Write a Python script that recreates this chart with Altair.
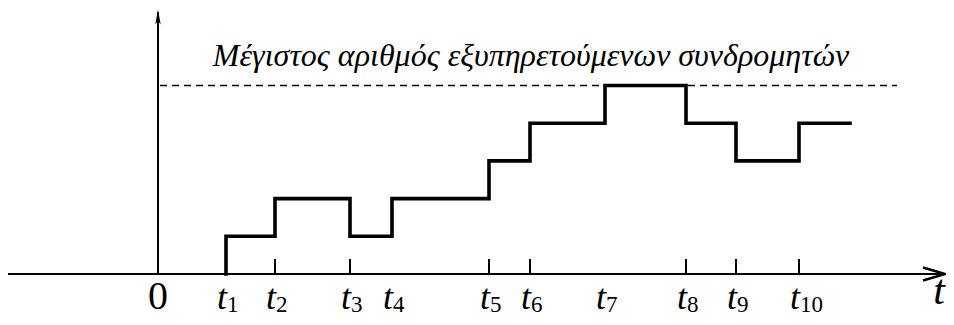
import altair as alt
import pandas as pd

# ---- data (time positions in arbitrary units, levels = number of subscribers) ----
t_names = ["1", "2", "3", "4", "5", "6", "7", "8", "9", "10"]
t_pos = [6.8, 11.7, 19.2, 23.4, 33.1, 37.2, 44.7, 52.8, 57.8, 64.1]
levels_after = [1, 2, 1, 2, 3, 4, 5, 4, 3, 4]
t_end = 69.2
end_level = 4
max_level = 5
ticked = ["2", "3", "5", "6", "8", "9", "10"]
title_text = "Μέγιστος αριθμός εξυπηρετούμενων συνδρομητών"

SERIF = "Liberation Serif, Times New Roman, DejaVu Serif, serif"
X_DOM = [-15.0, 78.8]
Y_DOM = [-1.141, 7.056]
W, H = 938, 309

xs = alt.Scale(domain=X_DOM, nice=False, zero=False)
ys = alt.Scale(domain=Y_DOM, nice=False, zero=False)

# step line
step_df = pd.DataFrame({
    "x": [t_pos[0]] + t_pos + [t_end],
    "y": [0] + levels_after + [end_level],
    "o": list(range(len(t_pos) + 2)),
})
step = alt.Chart(step_df).mark_line(
    interpolate="step-after", color="black", strokeWidth=3.6, strokeJoin="miter", strokeCap="square"
).encode(
    x=alt.X("x:Q", scale=xs, axis=None),
    y=alt.Y("y:Q", scale=ys, axis=None),
    order="o:Q",
)

# axes
axes_df = pd.DataFrame({
    "x": [-15.0, 0.0], "x2": [78.6, 0.0],
    "y": [0.0, 0.0], "y2": [0.0, 6.95],
})
axes = alt.Chart(axes_df).mark_rule(color="black", strokeWidth=2).encode(
    x=alt.X("x:Q", scale=xs, axis=None), x2="x2:Q",
    y=alt.Y("y:Q", scale=ys, axis=None), y2="y2:Q",
)

# arrowheads
up_df = pd.DataFrame({"x": [0.0], "y": [6.82]})
up_arrow = alt.Chart(up_df).mark_point(
    shape="M0,-1L0.36,1L0,0.55L-0.36,1Z", size=225, filled=True, color="black", opacity=1
).encode(x=alt.X("x:Q", scale=xs, axis=None), y=alt.Y("y:Q", scale=ys, axis=None))

right_df = pd.DataFrame({"x": [77.6], "y": [0.0]})
right_arrow = alt.Chart(right_df).mark_point(
    shape="M-1,-0.6L1,0L-1,0.6", size=484, filled=False, color="black",
    strokeWidth=2.6, opacity=1
).encode(x=alt.X("x:Q", scale=xs, axis=None), y=alt.Y("y:Q", scale=ys, axis=None))

# dashed max line
max_df = pd.DataFrame({"x": [0.2], "x2": [73.9], "y": [max_level]})
max_line = alt.Chart(max_df).mark_rule(
    color="black", strokeWidth=1.6, strokeDash=[7, 5]
).encode(
    x=alt.X("x:Q", scale=xs, axis=None), x2="x2:Q",
    y=alt.Y("y:Q", scale=ys, axis=None),
)

# ticks
tick_df = pd.DataFrame({
    "x": [p for n, p in zip(t_names, t_pos) if n in ticked],
})
tick_df["y"] = 0.0
tick_df["y2"] = 0.4
ticks = alt.Chart(tick_df).mark_rule(color="black", strokeWidth=2).encode(
    x=alt.X("x:Q", scale=xs, axis=None),
    y=alt.Y("y:Q", scale=ys, axis=None), y2="y2:Q",
)

# labels
lab_df = pd.DataFrame({"x": t_pos, "sub": t_names})
lab_df["y"] = -0.928
lab_df["ys"] = -1.008
lab_df["t"] = "t"
t_text = alt.Chart(lab_df).mark_text(
    font=SERIF, fontStyle="italic", fontSize=36, align="right",
    baseline="alphabetic", dx=1, color="black"
).encode(x=alt.X("x:Q", scale=xs, axis=None), y=alt.Y("y:Q", scale=ys, axis=None), text="t:N")
sub_text = alt.Chart(lab_df).mark_text(
    font=SERIF, fontSize=23, align="left", baseline="alphabetic", dx=1, color="black"
).encode(x=alt.X("x:Q", scale=xs, axis=None), y=alt.Y("ys:Q", scale=ys, axis=None), text="sub:N")

zero_df = pd.DataFrame({"x": [0.0], "y": [-0.928], "s": ["0"]})
zero_text = alt.Chart(zero_df).mark_text(
    font=SERIF, fontSize=40, align="center", baseline="alphabetic", color="black"
).encode(x=alt.X("x:Q", scale=xs, axis=None), y=alt.Y("y:Q", scale=ys, axis=None), text="s:N")

tend_df = pd.DataFrame({"x": [78.7], "y": [-0.8], "s": ["t"]})
tend_text = alt.Chart(tend_df).mark_text(
    font=SERIF, fontStyle="italic", fontSize=42, align="right",
    baseline="alphabetic", color="black"
).encode(x=alt.X("x:Q", scale=xs, axis=None), y=alt.Y("y:Q", scale=ys, axis=None), text="s:N")

title_df = pd.DataFrame({"x": [37.3], "y": [5.52], "s": [title_text]})
title = alt.Chart(title_df).mark_text(
    font=SERIF, fontStyle="italic", fontSize=32, align="center",
    baseline="alphabetic", color="black"
).encode(x=alt.X("x:Q", scale=xs, axis=None), y=alt.Y("y:Q", scale=ys, axis=None), text="s:N")

chart = alt.layer(
    max_line, axes, ticks, step, up_arrow, right_arrow,
    t_text, sub_text, zero_text, tend_text, title
).properties(
    width=W, height=H, padding=0,
    autosize=alt.AutoSizeParams(type="none"),
    background="white",
).configure_view(stroke=None)

chart.save("out.html", embed_options={"renderer": "svg", "actions": False})
